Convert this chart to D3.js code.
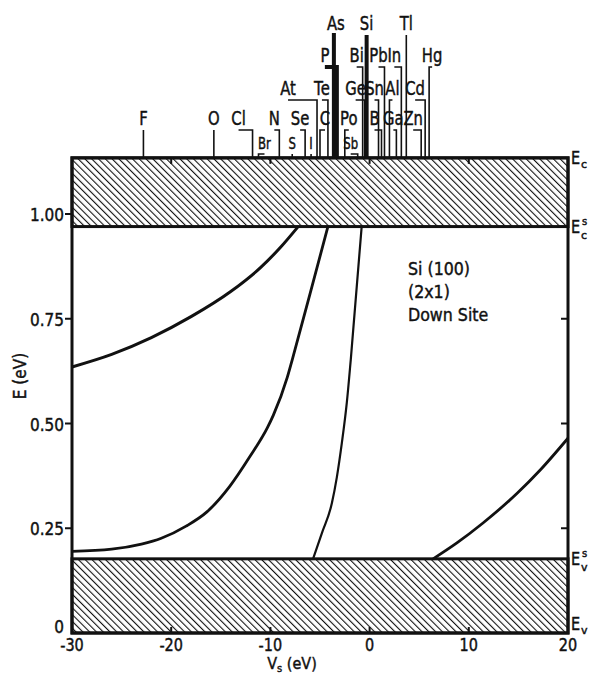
<!DOCTYPE html>
<html>
<head>
<meta charset="utf-8">
<script src="https://cdn.jsdelivr.net/npm/d3@7"></script>
<style>
  body { margin: 0; background: #fff; }
  svg text { font-family: "DejaVu Sans", sans-serif; fill: #111; stroke: #111; stroke-width: 0.45px; }
</style>
</head>
<body>
<div id="chart"></div>
<script>
// band edges (eV)
const bandEdges = { Ev: 0, EvS: 0.177, EcS: 0.97, Ec: 1.134 };

// axis ticks
const xTicks = [-30, -20, -10, 0, 10, 20];
const yTicks = [0, 0.25, 0.5, 0.75, 1.0];
const yTickLabels = ['0', '0.25', '0.50', '0.75', '1.00'];

// defect levels vs V_s  [V_s, E]
const levelA = [[-30, 0.635], [-26, 0.665], [-22, 0.705], [-18, 0.755], [-14, 0.815], [-11, 0.872], [-9, 0.92], [-7.2, 0.97]];
const levelB = [[-30, 0.195], [-26, 0.2], [-23, 0.212], [-21, 0.226], [-18.5, 0.255], [-16.4, 0.289], [-14.1, 0.35],
                [-12.1, 0.42], [-10.3, 0.49], [-9.7, 0.52], [-8.3, 0.61], [-7.8, 0.652], [-6, 0.81], [-4.2, 0.97]];
const levelC = [[-5.7, 0.177], [-4.8, 0.239], [-3.8, 0.31], [-3.3, 0.372], [-2.8, 0.453], [-2.3, 0.549], [-1.9, 0.652], [-0.8, 0.97]];
const levelD = [[6.4, 0.177], [8.8, 0.215], [11.4, 0.262], [14.9, 0.334], [17.2, 0.389], [20, 0.465]];

// impurity markers on the top
const elemNames = ['F', 'O', 'Cl', 'Br', 'N', 'S', 'Se', 'I', 'At', 'C', 'Te', 'As', 'P', 'Po', 'Sb', 'Ge', 'Bi', 'Si',
                   'Sn', 'B', 'Pb', 'Al', 'Ga', 'In', 'Tl', 'Zn', 'Cd', 'Hg'];
const elemVs    = [-22.8, -15.7, -11.8, -11.2, -9.1, -7.8, -6.5, -5.9, -5.3, -5.0, -4.2, -3.6, -3.3, -2.5, -1.2, -0.5, -0.7, -0.3,
                   0.9, 1.2, 1.5, 2.0, 2.7, 3.2, 3.7, 5.2, 5.6, 6.0];
const elemRow   = [4, 4, 4, 5, 4, 5, 4, 5, 3, 4, 3, 1, 2, 4, 5, 3, 2, 1,
                   3, 4, 2, 3, 4, 2, 1, 4, 3, 2];

// label placement tweaks (px, label relative to its line)
const labelShift = { Cl: -14, Br: 6, N: -5, Se: -5, At: -29, C: 5, Te: -6, As: 2, P: -12, Po: 4, Sb: -7, Ge: -9,
                     Bi: -6, Sn: -4, B: -7, Pb: -6, Al: 3, Ga: -3, In: -7, Zn: -8, Cd: -10, Hg: 3 };
const rowBase = { 1: 30, 2: 62, 3: 95, 4: 125, 5: 149 };
const thickLines = ['As', 'P', 'Si'];

const W = 591, H = 674;
const x = d3.scaleLinear().domain([-30, 20]).range([72, 568]);
const y = d3.scaleLinear().domain([0, 1]).range([633, 214]);

const svg = d3.select('#chart').append('svg')
    .attr('width', W).attr('height', H);

// narrow lettering like the original
function narrowText(sel, px, py, size, sx) {
  return sel.append('text')
      .attr('transform', (d, i) => 'translate(' + px(d, i) + ',' + py(d, i) + ') scale(' + sx + ',1)')
      .attr('font-size', size);
}

const defs = svg.append('defs');
defs.append('pattern')
    .attr('id', 'hatch')
    .attr('patternUnits', 'userSpaceOnUse')
    .attr('width', 4.8).attr('height', 4.8)
    .attr('patternTransform', 'rotate(-45)')
  .append('line')
    .attr('x1', 0).attr('y1', 0).attr('x2', 0).attr('y2', 4.8)
    .attr('stroke', '#111').attr('stroke-width', 2.2);

// bands
const bands = [[bandEdges.EcS, bandEdges.Ec], [bandEdges.Ev, bandEdges.EvS]];
svg.selectAll('.band').data(bands).enter().append('rect')
    .attr('class', 'band')
    .attr('x', x(-30)).attr('width', x(20) - x(-30))
    .attr('y', d => y(d[1])).attr('height', d => y(d[0]) - y(d[1]))
    .attr('fill', 'url(#hatch)')
    .attr('stroke', '#111').attr('stroke-width', 3);

// frame
svg.append('rect')
    .attr('x', x(-30)).attr('y', y(bandEdges.Ec))
    .attr('width', x(20) - x(-30)).attr('height', y(0) - y(bandEdges.Ec))
    .attr('fill', 'none').attr('stroke', '#111').attr('stroke-width', 3);

// ticks
const tl = 7;
svg.selectAll('.ytL').data(yTicks.slice(1)).enter().append('line')
    .attr('x1', x(-30) - tl).attr('x2', x(-30))
    .attr('y1', d => y(d)).attr('y2', d => y(d))
    .attr('stroke', '#111').attr('stroke-width', 2);
svg.selectAll('.ytR').data([0.25, 0.5, 0.75]).enter().append('line')
    .attr('x1', x(20) - tl).attr('x2', x(20))
    .attr('y1', d => y(d)).attr('y2', d => y(d))
    .attr('stroke', '#111').attr('stroke-width', 2);
svg.selectAll('.xtB').data(xTicks.slice(1, -1)).enter().append('line')
    .attr('x1', d => x(d)).attr('x2', d => x(d))
    .attr('y1', y(0)).attr('y2', y(0) - 6)
    .attr('stroke', '#111').attr('stroke-width', 2);
svg.selectAll('.xtT').data(xTicks.slice(1, -1)).enter().append('line')
    .attr('x1', d => x(d)).attr('x2', d => x(d))
    .attr('y1', y(bandEdges.Ec)).attr('y2', y(bandEdges.Ec) + 6)
    .attr('stroke', '#111').attr('stroke-width', 2);

// tick labels
narrowText(svg.selectAll('.ylab').data(yTicks).enter(), d => x(-30) - 8, d => y(d) + (d === 0 ? 0 : 7), 18, 0.85)
    .attr('text-anchor', 'end')
    .text((d, i) => yTickLabels[i]);
narrowText(svg.selectAll('.xlab').data(xTicks).enter(), d => x(d), d => y(0) + 18, 17, 0.85)
    .attr('text-anchor', 'middle')
    .text(d => d < 0 ? '-' + Math.abs(d) : d);

// axis titles
const xt = svg.append('text')
    .attr('transform', 'translate(292,669) scale(0.9,1)')
    .attr('text-anchor', 'middle').attr('font-size', 16);
xt.append('tspan').text('V');
xt.append('tspan').attr('font-size', 11).attr('dy', 3).text('s');
xt.append('tspan').attr('dy', -3).text(' (eV)');
svg.append('text')
    .attr('transform', 'translate(26,376) rotate(-90) scale(0.9,1)')
    .attr('text-anchor', 'middle').attr('font-size', 17)
    .text('E  (eV)');

// right side band labels
const rightLabels = [
  { v: bandEdges.Ec, sub: 'c', sup: '', dy: 6 },
  { v: bandEdges.EcS, sub: 'c', sup: 's', dy: 6 },
  { v: bandEdges.EvS, sub: 'v', sup: 's', dy: 6 },
  { v: bandEdges.Ev, sub: 'v', sup: '', dy: -3 }
];
const rl = svg.selectAll('.rl').data(rightLabels).enter().append('g')
    .attr('transform', d => 'translate(' + (x(20) + 3) + ',' + (y(d.v) + d.dy) + ')');
rl.append('text').attr('font-size', 17).attr('transform', 'scale(0.85,1)').text('E');
rl.append('text').attr('x', 10).attr('y', d => d.sup ? 6 : 4).attr('font-size', 11).text(d => d.sub);
rl.append('text').attr('x', 11).attr('y', -8).attr('font-size', 10).text(d => d.sup);

// level curves
const line = d3.line().x(d => x(d[0])).y(d => y(d[1])).curve(d3.curveMonotoneX);
const levels = [[levelA, 3], [levelB, 2.8], [levelC, 2.2], [levelD, 2.8]];
svg.selectAll('.lvl').data(levels).enter().append('path')
    .attr('d', d => line(d[0]))
    .attr('fill', 'none').attr('stroke', '#111')
    .attr('stroke-width', d => d[1]);

// annotation
const ann = ['Si (100)', '(2x1)', 'Down Site'];
narrowText(svg.selectAll('.ann').data(ann).enter(), () => 408, (d, i) => 275 + i * 23, 18, 0.88)
    .text(d => d);

// element markers
const elems = elemNames.map((n, i) => ({ name: n, v: elemVs[i], row: elemRow[i] }));
const eg = svg.selectAll('.el').data(elems).enter().append('g');
const labelX = d => x(d.v) + (labelShift[d.name] || 0);
eg.append('path')
    .attr('d', d => {
      const lx = labelX(d);
      const top = rowBase[d.row] + 5;
      if (Math.abs(lx - x(d.v)) < 2) return 'M' + x(d.v) + ',' + top + 'V' + y(bandEdges.Ec);
      return 'M' + lx + ',' + top + 'H' + x(d.v) + 'V' + y(bandEdges.Ec);
    })
    .attr('fill', 'none').attr('stroke', '#111')
    .attr('stroke-width', d => thickLines.includes(d.name) ? 4 : 1.6);
eg.each(function(d) {
  d3.select(this).append('text')
      .attr('transform', 'translate(' + labelX(d) + ',' + rowBase[d.row] + ') scale(0.78,1)')
      .attr('text-anchor', 'middle')
      .attr('font-size', d.row === 5 ? 15 : 19)
      .text(d.name);
});
</script>
</body>
</html>
